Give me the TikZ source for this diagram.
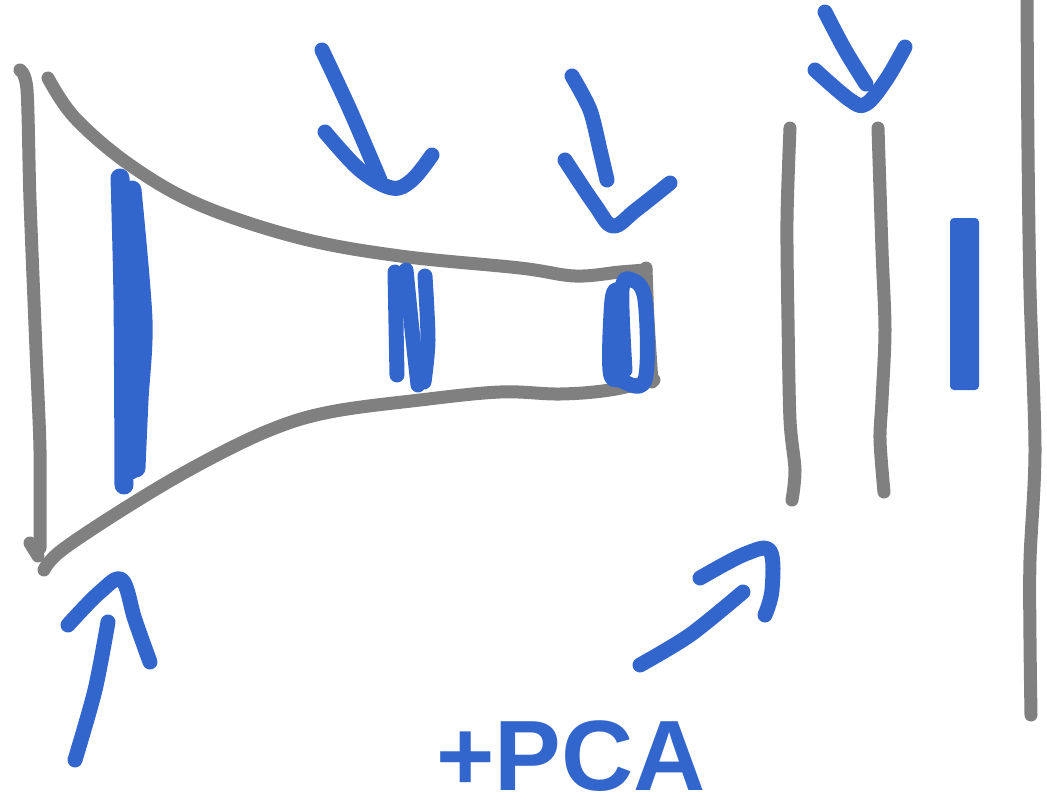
\documentclass[tikz,border=0pt]{standalone}
\usepackage{fontspec}
\setmainfont{Liberation Sans}
\definecolor{pen}{HTML}{808080}
\definecolor{ink}{HTML}{3366CC}
\tikzset{
  wall/.style={draw=pen, line width=13pt, line cap=round, line join=round},
  mark blue/.style={draw=ink, line width=15pt, line cap=round, line join=round},
  fat blue/.style={draw=ink, line width=19pt, line cap=round, line join=round},
}
\begin{document}
\begin{tikzpicture}[x=1pt,y=-1pt]
\useasboundingbox (0,0) rectangle (1047,811);
% ---- gray funnel and walls
\draw[wall] plot[smooth, tension=0.5] coordinates {(20,70) (27,90) (30,200) (36,350) (40,450) (40,548)};
\draw[wall] (30,543) -- (38,556);
\draw[wall] plot[smooth, tension=0.6] coordinates {(48,78) (75,118) (130,165) (200,205) (300,238) (400,256) (520,268) (575,276) (620,272) (646,270)};
\draw[wall] plot[smooth, tension=0.5] coordinates {(646,268) (648,320) (652,382)};
\draw[wall] plot[smooth, tension=0.6] coordinates {(44,570) (62,550) (130,505) (200,464) (270,430) (330,412) (420,400) (500,392) (560,394) (610,390) (654,380)};
\draw[wall] plot[smooth, tension=0.5] coordinates {(790,128) (787,220) (788,320) (790,420) (795,470) (792,500)};
\draw[wall] plot[smooth, tension=0.5] coordinates {(878,128) (882,250) (885,330) (882,400) (880,440) (884,492)};
\draw[wall] plot[smooth, tension=0.5] coordinates {(1027,0) (1028,150) (1030,290) (1035,450) (1030,560) (1030,640) (1031,715)};
% ---- blue bars
\draw[fat blue] plot[smooth] coordinates {(120,178) (123,300) (124,485)};
\draw[fat blue] plot[smooth] coordinates {(132,190) (143,320) (139,400) (136,468)};
\draw[fat blue] (128,200) -- (131,470);
\draw[mark blue] (395,272) -- (397,375);
\draw[mark blue] plot[smooth] coordinates {(406,270) (412,330) (418,385)};
\draw[mark blue] plot[smooth] coordinates {(425,276) (428,340) (424,382)};
\draw[mark blue] plot[smooth, tension=0.6] coordinates {(618,290) (612,300) (610,370) (620,380) (645,380) (645,300) (632,280) (622,290) (625,370)};
\fill[ink, rounded corners=4pt] (950,218) rectangle (979,390);
% ---- blue arrows
\draw[mark blue] plot[smooth] coordinates {(322,50) (350,110) (380,180)};
\draw[mark blue] plot[smooth, tension=0.6] coordinates {(325,132) (360,170) (392,188) (412,180) (432,155)};
\draw[mark blue] plot[smooth] coordinates {(572,76) (590,110) (600,150) (607,180)};
\draw[mark blue] plot[smooth, tension=0.6] coordinates {(565,160) (595,205) (613,226) (636,210) (670,183)};
\draw[mark blue] plot[smooth] coordinates {(825,12) (845,50) (866,84)};
\draw[mark blue] plot[smooth, tension=0.6] coordinates {(815,70) (850,100) (866,104) (886,80) (905,47)};
\draw[mark blue] plot[smooth] coordinates {(75,760) (95,690) (108,622)};
\draw[mark blue] plot[smooth, tension=0.6] coordinates {(68,625) (100,592) (122,580) (135,620) (150,662)};
\draw[mark blue] plot[smooth] coordinates {(640,665) (690,635) (743,592)};
\draw[mark blue] plot[smooth, tension=0.6] coordinates {(700,578) (745,554) (770,551) (772,590) (765,615)};
% ---- label
\node[ink, font=\fontsize{100}{100}\selectfont\bfseries, inner sep=0pt, anchor=base west] (lbl) at (436,790) {+PCA};
\end{tikzpicture}
\end{document}
